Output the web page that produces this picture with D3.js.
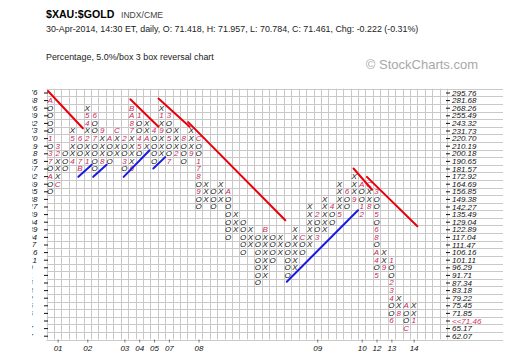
<!DOCTYPE html>
<html><head><meta charset="utf-8">
<script src="https://cdnjs.cloudflare.com/ajax/libs/d3/7.8.5/d3.min.js"></script>
<style>body{margin:0;background:#fff}svg{display:block}</style>
</head><body>
<svg id="c" width="510" height="355"></svg>
<script>
// ---- data ----
const priceLabels = ["295.76","281.68","268.26","255.49","243.32","231.73","220.70","210.19","200.18","190.65","181.57","172.92","164.69","156.85","149.38","142.27","135.49","129.04","122.89","117.04","111.47","106.16","101.11","96.29","91.71","87.34","83.18","79.22","75.45","71.85","68.43","65.17","62.07"];
const currentLabel = "<<71.46";
const currentRow = 30;
// each column: top row index and symbols from top to bottom (X / O, digits & A-C = month markers)
const colTops = [1,7,8,5,6,2,3,5,6,5,6,2,3,4,5,2,3,5,6,5,6,12,13,12,13,16,17,18,19,18,19,19,20,18,19,15,16,14,15,12,13,11,12,12,13,21,22,27,28,28];
const colBoxes = ["AOOOO1O37OAOO","32XXXC","OOO","X5XX4","6OO7B","X54X2XX1","6OO7OOOO","9XXX8","AOOO","CXXX",
"2OO3O","BA87XXXX6","1OO45O","XXAX","4OOOO","X1X9XXX","3OO5OO7","XXX2","8OOO","XXX9",
"COO178O9OO","XXX","OOO","XXX","AOOOOOO","XXX","OOOOO","XXX","OOOOOOO","BXXXXXX",
"OOOO","XXX","OOOOO","XXXXXX","COO","XXXXXX","2OO3","XXXXX","4OO","XXXX5",
"6OO","XXX9","AOO12","CXX8","3OO5O68OA4O5","XX9","1OO234OO6","XX8","AOOC","XX1"];
const yearLabels = ["01","02","03","04","05","07","08","09","10","12","13","14"];
const yearCols = [1,5,10,12,14,16,20,36,42,44,46,49];
// trend lines in box units [col1,row1,col2,row2]
const redLines = [[-0.3,-0.2,4.4,4.7],[10.8,0.9,14.6,4.5],[14.6,0.8,18.8,4.5],[18.6,3.9,31.7,16.8],[40.9,10,43.4,12.8],[42.7,11.1,49.5,17.6]];
const blueLines = [[3.8,11.1,5.6,9.5],[5.8,11.1,7.6,9.5],[9.9,11.1,13.4,7.6],[13.9,10,15.5,8.5],[31.9,24.9,41.5,15.5]];

// ---- layout ----
const nCols = 54, nRows = priceLabels.length;
const L = 46.5, R = 447, T = 88.7, B = 339.5;
const x = d3.scaleLinear().domain([-0.5, nCols-0.5]).range([L, R]);
const y = d3.scaleLinear().domain([-0.5, nRows-0.5]).range([T, B]);
const svg = d3.select("#c");
const font = "'Liberation Sans', Arial, sans-serif";

// header
svg.append("text").attr("x",46).attr("y",17.5).attr("font-family",font).attr("font-weight","bold").attr("font-size",10.6).text("$XAU:$GOLD");
svg.append("text").attr("x",121).attr("y",17.5).attr("font-family",font).attr("font-size",8.6).attr("fill","#444").text("INDX/CME");
svg.append("text").attr("x",46).attr("y",31.5).attr("font-family",font).attr("font-size",8.9).attr("fill","#222").text("30-Apr-2014, 14:30 ET, daily, O: 71.418, H: 71.957, L: 70.784, C: 71.461, Chg: -0.222 (-0.31%)");
svg.append("text").attr("x",46).attr("y",60).attr("font-family",font).attr("font-size",8.9).attr("fill","#222").text("Percentage, 5.0%/box 3 box reversal chart");
svg.append("text").attr("x",478).attr("y",68.5).attr("text-anchor","end").attr("font-family",font).attr("font-size",13).attr("fill","#a8a8a8").text("\u00a9 StockCharts.com");

// grid
const grid = svg.append("g").attr("stroke","#c9c9c9").attr("stroke-width",1);
d3.range(nRows+1).forEach(i=>{
  const yy = Math.round(y(i-0.5))+0.5;
  grid.append("line").attr("x1",L).attr("x2",503).attr("y1",yy).attr("y2",yy);
});
d3.range(nCols+1).forEach(i=>{
  const xx = Math.round(x(i-0.5))+0.5;
  grid.append("line").attr("x1",xx).attr("x2",xx).attr("y1",T).attr("y2",B);
});

// right axis
const rAxis = d3.axisRight(y).tickValues(d3.range(nRows)).tickSize(4).tickPadding(2)
  .tickFormat(i => i===currentRow ? currentLabel : priceLabels[i]);
const ra = svg.append("g").attr("transform",`translate(${R-1},0)`).call(rAxis);
ra.select(".domain").remove();
ra.selectAll("text").attr("font-family",font).attr("font-style","italic").attr("font-size",8).attr("fill","#111")
  .filter(i=>i===currentRow).attr("fill","#d0306a");
ra.selectAll("line").attr("stroke","#111");

// left axis (labels cut off by the picture edge)
svg.append("clipPath").attr("id","lc").append("rect").attr("x",32.3).attr("y",0).attr("width",60).attr("height",355);
const lAxis = d3.axisLeft(y).tickValues(d3.range(nRows)).tickSize(4).tickFormat(()=> "");
const la = svg.append("g").attr("transform",`translate(${L+1.5},0)`).call(lAxis);
la.select(".domain").remove();
la.selectAll("line").attr("stroke","#111");
const ll = svg.append("g").attr("clip-path","url(#lc)");
ll.selectAll("text").data(d3.range(nRows)).join("text")
  .attr("x",i=> i===currentRow ? 2 : 13).attr("y",i=>y(i)).attr("dy","0.35em")
  .attr("font-family",font).attr("font-style","italic").attr("font-size",8)
  .attr("fill",i=>i===currentRow?"#d0306a":"#111")
  .text(i=> i===currentRow ? currentLabel : priceLabels[i]);

// x axis labels
const xa = d3.axisBottom(x).tickValues(yearCols).tickSize(3).tickPadding(3)
  .tickFormat((d,i)=>yearLabels[i]);
const xg = svg.append("g").attr("transform",`translate(0,${B})`).call(xa);
xg.select(".domain").remove();
xg.selectAll("line").attr("stroke","#777");
xg.selectAll("text").attr("font-family",font).attr("font-style","italic").attr("font-size",8).attr("fill","#111");

// boxes
const cells = [];
colBoxes.forEach((s,c)=>{
  [...s].forEach((ch,k)=>cells.push({c, r: colTops[c]+k, ch}));
});
svg.append("g").selectAll("text").data(cells).join("text")
  .attr("x",d=>x(d.c)).attr("y",d=>y(d.r)).attr("dy","0.36em")
  .attr("text-anchor","middle")
  .attr("font-family",font).attr("font-style","italic").attr("font-size",8)
  .attr("fill",d=>(d.ch==="X"||d.ch==="O")?"#111":"#c8285a")
  .text(d=>d.ch);

// trend lines
const tl = svg.append("g").attr("stroke-width",2).attr("stroke-linecap","round");
tl.selectAll(".r").data(redLines).join("line").attr("class","r").attr("stroke","#e8000b")
  .attr("x1",d=>x(d[0])).attr("y1",d=>y(d[1])).attr("x2",d=>x(d[2])).attr("y2",d=>y(d[3]));
tl.selectAll(".b").data(blueLines).join("line").attr("class","b").attr("stroke","#1a1ae0")
  .attr("x1",d=>x(d[0])).attr("y1",d=>y(d[1])).attr("x2",d=>x(d[2])).attr("y2",d=>y(d[3]));
</script>
</body></html>
